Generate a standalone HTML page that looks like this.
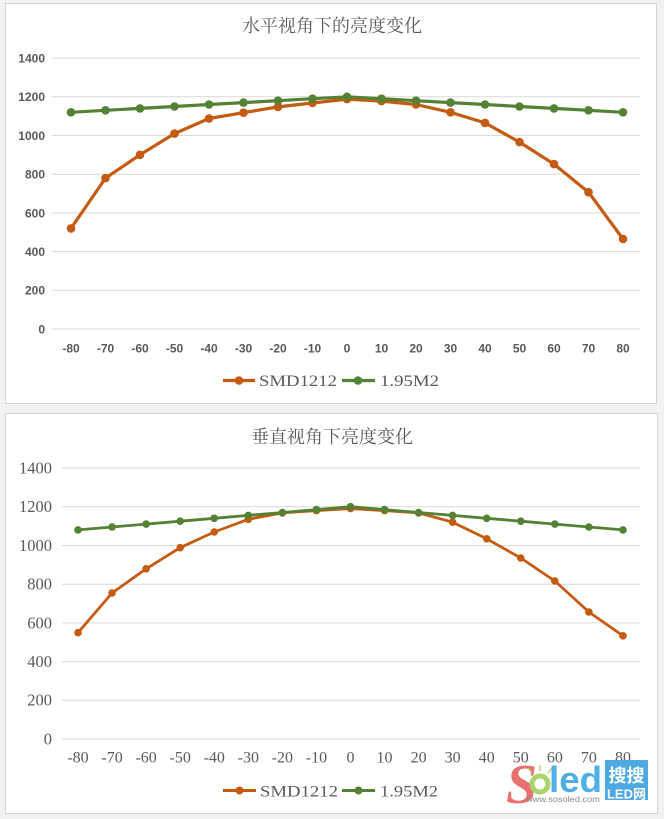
<!DOCTYPE html>
<html><head><meta charset="utf-8"><style>
html,body{margin:0;padding:0;background:#f1f1f1;}
svg{display:block;}
</style></head><body>
<svg width="664" height="819" viewBox="0 0 664 819" xmlns="http://www.w3.org/2000/svg">
<rect x="0" y="0" width="664" height="819" fill="#f1f1f1"/>
<!-- panels -->
<rect x="5.5" y="3.5" width="651" height="400" fill="#fff" stroke="#d4d4d4" stroke-width="1"/>
<rect x="5.5" y="413.5" width="652" height="400" fill="#fff" stroke="#d4d4d4" stroke-width="1"/>

<!-- ===== TOP CHART ===== -->
<text x="332" y="32" text-anchor="middle" font-family="'Liberation Serif','Noto Serif CJK SC',serif" font-size="18" fill="#595959">水平视角下的亮度变化</text>
<g stroke="#d9d9d9" stroke-width="1">
<line x1="52" x2="640" y1="58.1" y2="58.1"/>
<line x1="52" x2="640" y1="96.8" y2="96.8"/>
<line x1="52" x2="640" y1="135.5" y2="135.5"/>
<line x1="52" x2="640" y1="174.2" y2="174.2"/>
<line x1="52" x2="640" y1="212.9" y2="212.9"/>
<line x1="52" x2="640" y1="251.6" y2="251.6"/>
<line x1="52" x2="640" y1="290.3" y2="290.3"/>
<line x1="52" x2="640" y1="329" y2="329"/>
</g>
<g font-family="'Liberation Sans',sans-serif" font-weight="bold" font-size="12" fill="#595959" text-anchor="end">
<text x="45" y="62.5">1400</text>
<text x="45" y="101.2">1200</text>
<text x="45" y="139.9">1000</text>
<text x="45" y="178.6">800</text>
<text x="45" y="217.3">600</text>
<text x="45" y="256">400</text>
<text x="45" y="294.7">200</text>
<text x="45" y="333.4">0</text>
</g>
<g font-family="'Liberation Sans',sans-serif" font-weight="bold" font-size="12" fill="#595959" text-anchor="middle">
<text x="71" y="352.5">-80</text><text x="105.5" y="352.5">-70</text><text x="140" y="352.5">-60</text><text x="174.5" y="352.5">-50</text>
<text x="209" y="352.5">-40</text><text x="243.5" y="352.5">-30</text><text x="278" y="352.5">-20</text><text x="312.5" y="352.5">-10</text>
<text x="347" y="352.5">0</text><text x="381.5" y="352.5">10</text><text x="416" y="352.5">20</text><text x="450.5" y="352.5">30</text>
<text x="485" y="352.5">40</text><text x="519.5" y="352.5">50</text><text x="554" y="352.5">60</text><text x="588.5" y="352.5">70</text>
<text x="623" y="352.5">80</text>
</g>
<!-- series top -->
<polyline fill="none" stroke="#c55a11" stroke-width="3.2" stroke-linejoin="round" points="71,228.4 105.5,178.1 140,154.8 174.5,133.6 209,118.5 243.5,112.7 278,106.9 312.5,103 347,99.1 381.5,101.1 416,104.5 450.5,112.3 485,122.9 519.5,142.1 554,164.1 588.5,192.2 623,239"/>
<g fill="#c55a11">
<circle cx="71" cy="228.4" r="4.3"/><circle cx="105.5" cy="178.1" r="4.3"/><circle cx="140" cy="154.8" r="4.3"/><circle cx="174.5" cy="133.6" r="4.3"/>
<circle cx="209" cy="118.5" r="4.3"/><circle cx="243.5" cy="112.7" r="4.3"/><circle cx="278" cy="106.9" r="4.3"/><circle cx="312.5" cy="103" r="4.3"/>
<circle cx="347" cy="99.1" r="4.3"/><circle cx="381.5" cy="101.1" r="4.3"/><circle cx="416" cy="104.5" r="4.3"/><circle cx="450.5" cy="112.3" r="4.3"/>
<circle cx="485" cy="122.9" r="4.3"/><circle cx="519.5" cy="142.1" r="4.3"/><circle cx="554" cy="164.1" r="4.3"/><circle cx="588.5" cy="192.2" r="4.3"/>
<circle cx="623" cy="239" r="4.3"/>
</g>
<polyline fill="none" stroke="#548235" stroke-width="3.2" stroke-linejoin="round" points="71,112.3 105.5,110.3 140,108.4 174.5,106.5 209,104.5 243.5,102.6 278,100.7 312.5,98.7 347,96.8 381.5,98.7 416,100.7 450.5,102.6 485,104.5 519.5,106.5 554,108.4 588.5,110.3 623,112.3"/>
<g fill="#548235">
<circle cx="71" cy="112.3" r="4.3"/><circle cx="105.5" cy="110.3" r="4.3"/><circle cx="140" cy="108.4" r="4.3"/><circle cx="174.5" cy="106.5" r="4.3"/>
<circle cx="209" cy="104.5" r="4.3"/><circle cx="243.5" cy="102.6" r="4.3"/><circle cx="278" cy="100.7" r="4.3"/><circle cx="312.5" cy="98.7" r="4.3"/>
<circle cx="347" cy="96.8" r="4.3"/><circle cx="381.5" cy="98.7" r="4.3"/><circle cx="416" cy="100.7" r="4.3"/><circle cx="450.5" cy="102.6" r="4.3"/>
<circle cx="485" cy="104.5" r="4.3"/><circle cx="519.5" cy="106.5" r="4.3"/><circle cx="554" cy="108.4" r="4.3"/><circle cx="588.5" cy="110.3" r="4.3"/>
<circle cx="623" cy="112.3" r="4.3"/>
</g>
<!-- legend top -->
<line x1="223" x2="255" y1="380.5" y2="380.5" stroke="#c55a11" stroke-width="3.2"/>
<circle cx="239" cy="380.5" r="4.3" fill="#c55a11"/>
<text x="259" y="386" font-family="'Liberation Serif',serif" font-size="16" fill="#595959" textLength="78" lengthAdjust="spacingAndGlyphs">SMD1212</text>
<line x1="342" x2="375" y1="380.5" y2="380.5" stroke="#548235" stroke-width="3.2"/>
<circle cx="358" cy="380.5" r="4.3" fill="#548235"/>
<text x="380" y="386" font-family="'Liberation Serif',serif" font-size="16" fill="#595959" textLength="59" lengthAdjust="spacingAndGlyphs">1.95M2</text>

<!-- ===== BOTTOM CHART ===== -->
<text x="332" y="443" text-anchor="middle" font-family="'Liberation Serif','Noto Serif CJK SC',serif" font-size="18" fill="#595959">垂直视角下亮度变化</text>
<g stroke="#d9d9d9" stroke-width="1">
<line x1="62" x2="640" y1="468.1" y2="468.1"/>
<line x1="62" x2="640" y1="506.8" y2="506.8"/>
<line x1="62" x2="640" y1="545.5" y2="545.5"/>
<line x1="62" x2="640" y1="584.2" y2="584.2"/>
<line x1="62" x2="640" y1="622.9" y2="622.9"/>
<line x1="62" x2="640" y1="661.6" y2="661.6"/>
<line x1="62" x2="640" y1="700.3" y2="700.3"/>
<line x1="62" x2="640" y1="739" y2="739"/>
</g>
<g font-family="'Liberation Serif',serif" font-size="16.5" fill="#595959" text-anchor="end">
<text x="52" y="473.5">1400</text>
<text x="52" y="512.2">1200</text>
<text x="52" y="550.9">1000</text>
<text x="52" y="589.6">800</text>
<text x="52" y="628.3">600</text>
<text x="52" y="667">400</text>
<text x="52" y="705.7">200</text>
<text x="52" y="744.4">0</text>
</g>
<g font-family="'Liberation Serif',serif" font-size="16" fill="#595959" text-anchor="middle">
<text x="78" y="762.5">-80</text><text x="112.06" y="762.5">-70</text><text x="146.12" y="762.5">-60</text><text x="180.18" y="762.5">-50</text>
<text x="214.24" y="762.5">-40</text><text x="248.3" y="762.5">-30</text><text x="282.36" y="762.5">-20</text><text x="316.42" y="762.5">-10</text>
<text x="350.48" y="762.5">0</text><text x="384.54" y="762.5">10</text><text x="418.6" y="762.5">20</text><text x="452.66" y="762.5">30</text>
<text x="486.72" y="762.5">40</text><text x="520.78" y="762.5">50</text><text x="554.84" y="762.5">60</text><text x="588.9" y="762.5">70</text>
<text x="622.96" y="762.5">80</text>
</g>
<polyline fill="none" stroke="#c55a11" stroke-width="2.8" stroke-linejoin="round" points="78,632.7 112.06,593 146.12,568.8 180.18,547.7 214.24,532 248.3,519.3 282.36,512.9 316.42,510.6 350.48,508.6 384.54,510.6 418.6,512.9 452.66,522.2 486.72,538.8 520.78,558 554.84,581 588.9,612 622.96,635.8"/>
<g fill="#c55a11">
<circle cx="78" cy="632.7" r="3.8"/><circle cx="112.06" cy="593" r="3.8"/><circle cx="146.12" cy="568.8" r="3.8"/><circle cx="180.18" cy="547.7" r="3.8"/>
<circle cx="214.24" cy="532" r="3.8"/><circle cx="248.3" cy="519.3" r="3.8"/><circle cx="282.36" cy="512.9" r="3.8"/><circle cx="316.42" cy="510.6" r="3.8"/>
<circle cx="350.48" cy="508.6" r="3.8"/><circle cx="384.54" cy="510.6" r="3.8"/><circle cx="418.6" cy="512.9" r="3.8"/><circle cx="452.66" cy="522.2" r="3.8"/>
<circle cx="486.72" cy="538.8" r="3.8"/><circle cx="520.78" cy="558" r="3.8"/><circle cx="554.84" cy="581" r="3.8"/><circle cx="588.9" cy="612" r="3.8"/>
<circle cx="622.96" cy="635.8" r="3.8"/>
</g>
<polyline fill="none" stroke="#548235" stroke-width="2.8" stroke-linejoin="round" points="78,529.9 112.06,527 146.12,524.1 180.18,521.2 214.24,518.3 248.3,515.4 282.36,512.5 316.42,509.6 350.48,506.7 384.54,509.6 418.6,512.5 452.66,515.4 486.72,518.3 520.78,521.2 554.84,524.1 588.9,527 622.96,529.9"/>
<g fill="#548235">
<circle cx="78" cy="529.9" r="3.8"/><circle cx="112.06" cy="527" r="3.8"/><circle cx="146.12" cy="524.1" r="3.8"/><circle cx="180.18" cy="521.2" r="3.8"/>
<circle cx="214.24" cy="518.3" r="3.8"/><circle cx="248.3" cy="515.4" r="3.8"/><circle cx="282.36" cy="512.5" r="3.8"/><circle cx="316.42" cy="509.6" r="3.8"/>
<circle cx="350.48" cy="506.7" r="3.8"/><circle cx="384.54" cy="509.6" r="3.8"/><circle cx="418.6" cy="512.5" r="3.8"/><circle cx="452.66" cy="515.4" r="3.8"/>
<circle cx="486.72" cy="518.3" r="3.8"/><circle cx="520.78" cy="521.2" r="3.8"/><circle cx="554.84" cy="524.1" r="3.8"/><circle cx="588.9" cy="527" r="3.8"/>
<circle cx="622.96" cy="529.9" r="3.8"/>
</g>
<!-- legend bottom -->
<line x1="223" x2="256" y1="790.5" y2="790.5" stroke="#c55a11" stroke-width="3"/>
<circle cx="239.5" cy="790.5" r="4" fill="#c55a11"/>
<text x="260" y="796.5" font-family="'Liberation Serif',serif" font-size="16" fill="#595959" textLength="78" lengthAdjust="spacingAndGlyphs">SMD1212</text>
<line x1="342" x2="375" y1="790.5" y2="790.5" stroke="#548235" stroke-width="3"/>
<circle cx="358.5" cy="790.5" r="4" fill="#548235"/>
<text x="380" y="796.5" font-family="'Liberation Serif',serif" font-size="16" fill="#595959" textLength="58" lengthAdjust="spacingAndGlyphs">1.95M2</text>

<!-- watermark -->
<text x="506" y="803" font-family="'Liberation Serif',serif" font-style="italic" font-weight="bold" font-size="56" fill="#e8716f">S</text>
<g stroke="#a8d46a" stroke-width="1.3">
<line x1="540" y1="771" x2="540" y2="765"/>
<line x1="532" y1="773" x2="528" y2="768"/>
<line x1="548" y1="773" x2="552" y2="768"/>
</g>
<circle cx="540" cy="784" r="8" fill="none" stroke="#a8d46a" stroke-width="5"/>
<text x="549" y="792" font-family="'Liberation Sans',sans-serif" font-weight="bold" font-size="36" fill="#4faee6" textLength="53" lengthAdjust="spacingAndGlyphs">led</text>
<text x="526" y="802" font-family="'Liberation Sans',sans-serif" font-size="8.5" fill="#8a8a8a" textLength="74" lengthAdjust="spacingAndGlyphs">www.sosoled.com</text>
<rect x="605" y="760" width="43" height="40" fill="#4ea9e2"/>
<text x="626.5" y="782" text-anchor="middle" font-family="'Noto Sans CJK SC',sans-serif" font-weight="bold" font-size="18" fill="#fff">搜搜</text>
<text x="626.5" y="798.5" text-anchor="middle" font-family="'Liberation Sans','Noto Sans CJK SC',sans-serif" font-weight="bold" font-size="13" fill="#fff">LED网</text>
</svg>
</body></html>
